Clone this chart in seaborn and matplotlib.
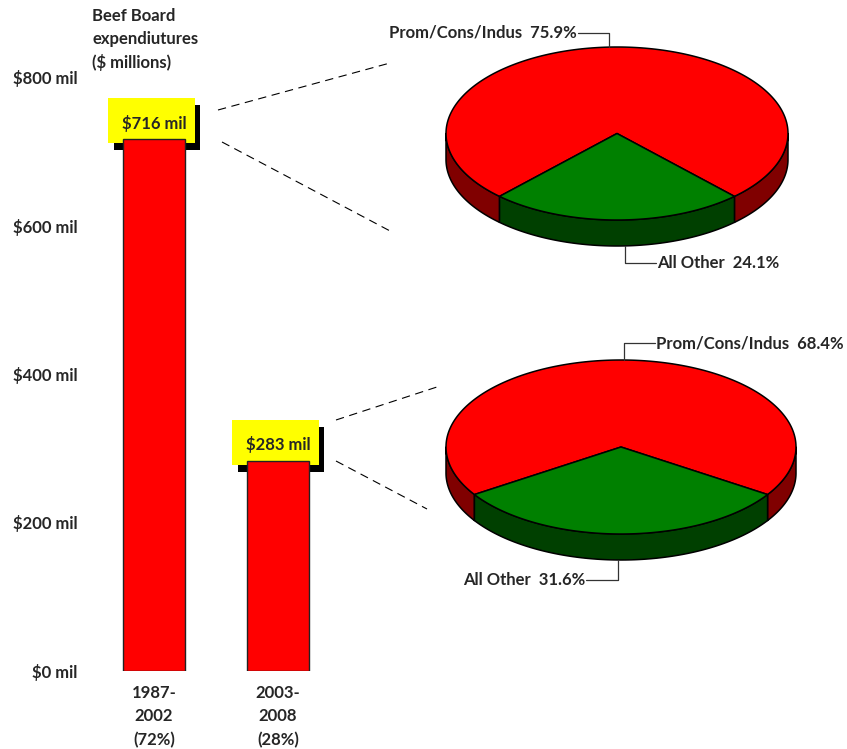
import numpy as np
import pandas as pd
import seaborn as sns
import matplotlib.pyplot as plt
from matplotlib.patches import Polygon, Rectangle
from matplotlib.lines import Line2D

# ---- data -------------------------------------------------------------
periods = ["1987-\n2002\n(72%)", "2003-\n2008\n(28%)"]
spend = [716, 283]                      # $ millions
spend_labels = ["$716 mil", "$283 mil"]
ytick_vals = [0, 200, 400, 600, 800]
ytick_labels = ["$0 mil", "$200 mil", "$400 mil", "$600 mil", "$800 mil"]
pie_categories = ["Prom/Cons/Indus", "All Other"]
prom_share = [75.9, 68.4]              # % of each period's spending
other_share = [24.1, 31.6]

# ---- style ------------------------------------------------------------
sns.set_theme(style="white")
plt.rcParams["font.family"] = ["Lato", "DejaVu Sans"]
plt.rcParams["font.weight"] = "bold"

W, H = 847, 749
fig = plt.figure(figsize=(W / 100, H / 100), dpi=100)

RED, RED_SIDE = "#FF0000", "#800000"
GREEN, GREEN_SIDE = "#008000", "#004000"
FS = 12

# ---- bar chart --------------------------------------------------------
ax = fig.add_axes([85 / W, (H - 671) / H, 255 / W, 594 / H])
df = pd.DataFrame({"period": periods, "spend": spend})
sns.barplot(data=df, x="period", y="spend", color=RED, saturation=1,
            edgecolor="#222222", linewidth=1.0, width=0.5, ax=ax, zorder=3)
ax.set_xlim(-0.556, 1.5)
ax.set_ylim(0, 800)
ax.set_yticks(ytick_vals)
ax.set_yticklabels(ytick_labels, fontsize=FS, fontweight="bold")
ax.set_xticks(range(len(periods)))
ax.set_xticklabels(periods, fontsize=FS, fontweight="bold", linespacing=1.56)
ax.tick_params(axis="y", length=0, pad=5.5)
ax.tick_params(axis="x", length=0, pad=10)
ax.set_xlabel("")
ax.set_ylabel("")
for s in ax.spines.values():
    s.set_visible(False)
ax.patch.set_alpha(0)

# value boxes: yellow with a black drop shadow, tucked behind the bar top
for i, (v, lab) in enumerate(zip(spend, spend_labels)):
    bx, bw = i - 0.367, 0.694
    by, bh = v - 5, 60.6
    ax.add_patch(Rectangle((bx + 0.048, by - 9.4), bw, bh, fc="black",
                           ec="none", zorder=1))
    ax.add_patch(Rectangle((bx, by), bw, bh, fc="#FFFF00", ec="none",
                           zorder=2))
    ax.text(i, v + 22, lab, ha="center", va="center", fontsize=FS,
            fontweight="bold", zorder=4)

fig.text(92 / W, 1 - 8 / H, "Beef Board\nexpendiutures\n($ millions)",
         ha="left", va="top", fontsize=FS, fontweight="bold", linespacing=1.53)


# ---- 3-D pies ---------------------------------------------------------
def pie_axes(cx, cy, rx, ry, ext=1.6):
    a = fig.add_axes([(cx - ext * rx) / W, 1 - (cy + ext * ry) / H,
                      2 * ext * rx / W, 2 * ext * ry / H])
    a.set_xlim(-ext, ext)
    a.set_ylim(-ext, ext)
    a.axis("off")
    return a


def front_parts(a0, a1):
    parts = []
    for shift in (-360, 0, 360):
        lo, hi = max(a0 + shift, 180), min(a1 + shift, 360)
        if hi > lo:
            parts.append((lo, hi))
    return parts


def draw_pie(a, shares, depth):
    g = 360 * shares[1] / 100
    p = 360 * shares[0] / 100
    start = 270 + g / 2
    wedges = [(start, start + p, RED, RED_SIDE),
              (start + p, start + p + g, GREEN, GREEN_SIDE)]
    for a0, a1, top, side in wedges:
        for lo, hi in front_parts(a0, a1):
            t = np.radians(np.linspace(lo, hi, 120))
            up = np.c_[np.cos(t), np.sin(t)]
            dn = up[::-1] - [0, depth]
            a.add_patch(Polygon(np.vstack([up, dn]), closed=True, fc=side,
                                ec="black", lw=1.1, joinstyle="round",
                                zorder=1, clip_on=False))
    for a0, a1, top, side in wedges:
        t = np.radians(np.linspace(a0, a1, 240))
        pts = np.vstack([[0, 0], np.c_[np.cos(t), np.sin(t)]])
        a.add_patch(Polygon(pts, closed=True, fc=top, ec="black", lw=1.1,
                            joinstyle="round", zorder=2, clip_on=False))


def leader(a, pts):
    xs, ys = zip(*pts)
    a.plot(xs, ys, color="#333333", lw=0.9, clip_on=False, zorder=3)


pie_geom = [(617, 133.5, 171, 86.5), (621, 447, 175, 87)]
DEPTH_PX = 26

# top pie (1987-2002)
cx, cy, rx, ry = pie_geom[0]
p1 = pie_axes(cx, cy, rx, ry)
d1 = DEPTH_PX / ry
draw_pie(p1, [prom_share[0], other_share[0]], d1)
p1.text(-0.234, 1.162, f"{pie_categories[0]}  {prom_share[0]:.1f}%",
        ha="right", va="center", fontsize=FS, fontweight="bold", clip_on=False)
leader(p1, [(-0.228, 1.162), (-0.047, 1.162), (-0.047, 1.0)])
p1.text(0.234, -1.497, f"{pie_categories[1]}  {other_share[0]:.1f}%",
        ha="left", va="center", fontsize=FS, fontweight="bold", clip_on=False)
leader(p1, [(0.047, -1.0 - d1), (0.047, -1.497), (0.228, -1.497)])

# bottom pie (2003-2008)
cx, cy, rx, ry = pie_geom[1]
p2 = pie_axes(cx, cy, rx, ry)
d2 = DEPTH_PX / ry
draw_pie(p2, [prom_share[1], other_share[1]], d2)
p2.text(0.2, 1.195, f"{pie_categories[0]}  {prom_share[1]:.1f}%",
        ha="left", va="center", fontsize=FS, fontweight="bold", clip_on=False)
leader(p2, [(0.017, 1.0), (0.017, 1.195), (0.194, 1.195)])
p2.text(-0.206, -1.529, f"{pie_categories[1]}  {other_share[1]:.1f}%",
        ha="right", va="center", fontsize=FS, fontweight="bold", clip_on=False)
leader(p2, [(-0.017, -1.0 - d2), (-0.017, -1.529), (-0.2, -1.529)])

# dashed connectors from the value boxes to the pies
connectors = [((218, 110), (390, 63)), ((222, 142), (392, 232)),
              ((336, 420), (440, 386)), ((336, 461), (427, 509))]
for (x0, y0), (x1, y1) in connectors:
    fig.add_artist(Line2D([x0 / W, x1 / W], [1 - y0 / H, 1 - y1 / H],
                          transform=fig.transFigure, color="black", lw=0.8,
                          linestyle=(0, (7.5, 5))))

fig.savefig("out.png", dpi=100, facecolor="white")
